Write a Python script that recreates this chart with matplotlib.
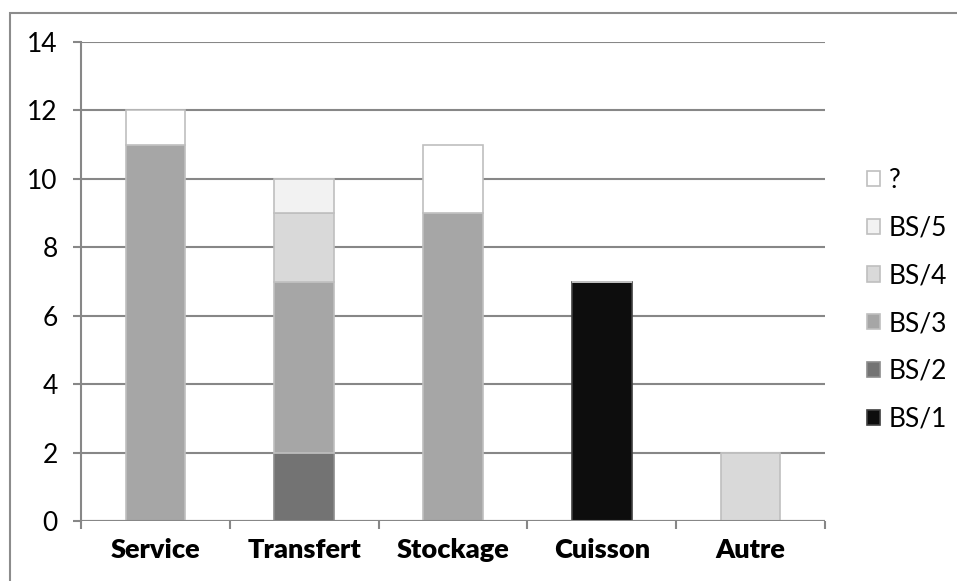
import numpy as np
import matplotlib.pyplot as plt
from matplotlib.patches import Rectangle

# data
categories = ['Service', 'Transfert', 'Stockage', 'Cuisson', 'Autre']
series_names = ['BS/1', 'BS/2', 'BS/3', 'BS/4', 'BS/5', '?']
bs1 = [0, 0, 0, 7, 0]
bs2 = [0, 2, 0, 0, 0]
bs3 = [11, 5, 9, 0, 0]
bs4 = [0, 2, 0, 0, 2]
bs5 = [0, 1, 0, 0, 0]
unknown = [1, 0, 2, 0, 0]
colors = ['#0d0d0d', '#737373', '#a6a6a6', '#d9d9d9', '#f2f2f2', '#ffffff']
edges = ['#404040', '#8c8c8c', '#bfbfbf', '#bfbfbf', '#bfbfbf', '#bfbfbf']

plt.rcParams['font.family'] = ['Lato', 'DejaVu Sans']

W, H = 957, 581
fig = plt.figure(figsize=(W / 100, H / 100), dpi=100)

# outer frame (only left / top visible)
fig.patches.append(Rectangle((10 / W, -0.1), 1.2, 1 - 13 / H + 0.1, transform=fig.transFigure,
                             fill=False, edgecolor='#8c8c8c', linewidth=1.5))

ax = fig.add_axes([81 / W, 1 - 521 / H, (825 - 81) / W, (521 - 42) / H])

x = np.arange(len(categories))
bottom = np.zeros(len(categories))
handles = []
for name, vals, c, e in zip(series_names, [bs1, bs2, bs3, bs4, bs5, unknown], colors, edges):
    b = ax.bar(x, vals, 0.4, bottom=bottom, color=c, edgecolor=e, linewidth=1.2,
               label=name, zorder=3)
    bottom += np.array(vals)
    handles.append(b)

ax.set_xlim(-0.5, len(categories) - 0.5)
ax.set_ylim(0, 14)
ax.set_yticks(range(0, 15, 2))
ax.yaxis.grid(True, color='#878787', linewidth=1.5, zorder=0)
ax.set_axisbelow(True)

for s in ['top', 'right', 'bottom']:
    ax.spines[s].set_visible(False)
ax.spines['left'].set_color('#878787')
ax.spines['left'].set_linewidth(1.5)
ax.axhline(0, color='#878787', linewidth=1.5, zorder=4)

ax.set_xticks(x)
ax.set_xticklabels(categories, fontsize=19.5, fontweight='heavy')
ax.tick_params(axis='x', length=0, pad=12)
ax.set_xticks(np.arange(-0.5, len(categories)), minor=True)
ax.tick_params(axis='x', which='minor', length=5.8, width=1.5, color='#878787')
ax.tick_params(axis='y', length=5.8, width=1.5, color='#878787', labelsize=19, pad=11)

leg = ax.legend(handles[::-1], series_names[::-1], loc='center left',
                bbox_to_anchor=((856 - 81) / (825 - 81), 0.462), frameon=False,
                fontsize=19, labelspacing=0.86, handlelength=0.5, handleheight=0.5,
                handletextpad=0.35, borderaxespad=0)

fig.savefig('out.png', dpi=100)
